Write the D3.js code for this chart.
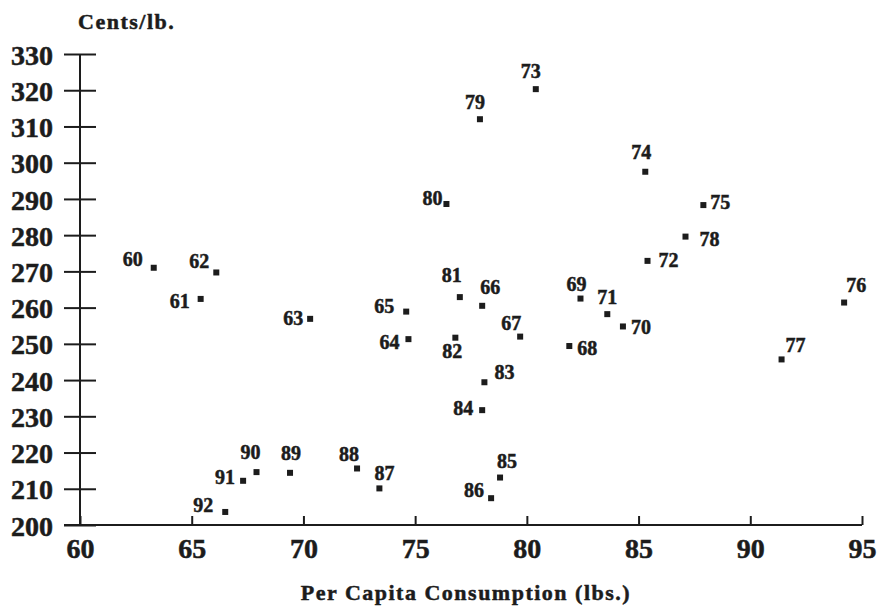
<!DOCTYPE html>
<html>
<head>
<meta charset="utf-8">
<script src="https://cdn.jsdelivr.net/npm/d3@7"></script>
<style>
  html, body { margin: 0; padding: 0; background: #fff; }
  svg { display: block; }
  text { font-family: "Liberation Serif", "Times New Roman", serif; font-weight: bold; fill: #1c1c1c; stroke: #1c1c1c; stroke-width: 0.5px; }
</style>
</head>
<body>
<svg id="chart" width="878" height="607"></svg>
<script>
// ---- data ----
const years = ["60","61","62","63","64","65","66","67","68","69","70","71","72","73","74","75","76","77","78","79","80","81","82","83","84","85","86","87","88","89","90","91","92"];
const consumption = [63.3,65.4,66.1,70.3,74.7,74.6,78.0,79.7,81.9,82.4,84.3,83.6,85.4,80.4,85.3,87.9,94.2,91.4,87.1,77.9,76.4,77.0,76.8,78.1,78.0,78.8,78.4,73.4,72.4,69.4,67.9,67.3,66.5];
const price = [271.0,262.4,269.7,256.9,251.3,258.9,260.5,252.0,249.4,262.5,254.8,258.2,272.9,320.3,297.5,288.3,261.4,245.7,279.6,312.0,288.6,262.9,251.7,239.4,231.7,213.1,207.4,210.1,215.6,214.4,214.6,212.2,203.6];
const xTicks = [60,65,70,75,80,85,90,95];
const yTicks = [200,210,220,230,240,250,260,270,280,290,300,310,320,330];
const yAxisTitle = "Cents/lb.";
const xAxisTitle = "Per Capita Consumption (lbs.)";

// ---- label placement (layout only): [dx, dy] from point to label start/baseline ----
const labelOffset = {
  "60":[-31,-2],"61":[-31,9],"62":[-27,-4],"63":[-27,6],"64":[-29,10],"65":[-32,1],
  "66":[-2,-12],"67":[-19,-7],"68":[8,9],"69":[-14,-8],"70":[8,8],"71":[-10,-10],
  "72":[11,6],"73":[-15,-11],"74":[-14,-13],"75":[7,4],"76":[2,-11],"77":[4,-7],
  "78":[14,9],"79":[-15,-10],"80":[-24,1],"81":[-18,-15],"82":[-13,20],"83":[10,-3],
  "84":[-29,5],"85":[-3,-10],"86":[-27,-1],"87":[-5,-8],"88":[-18,-7],"89":[-9,-13],
  "90":[-16,-13],"91":[-28,3],"92":[-32,0]
};

const ink = "#1c1c1c";
const svg = d3.select("#chart");
const x = d3.scaleLinear().domain([60, 95]).range([80, 862]);
const y = d3.scaleLinear().domain([200, 330]).range([525, 54]);

// Y axis
const gy = svg.append("g").attr("transform", `translate(${x(60)},0)`)
  .call(d3.axisLeft(y).tickValues(yTicks).tickSize(16).tickPadding(11).tickSizeOuter(0));
gy.select(".domain").remove();
gy.selectAll(".tick line").attr("x1", -16).attr("x2", 16).attr("stroke", ink).attr("stroke-width", 2);
gy.selectAll(".tick text").attr("font-size", 28).attr("fill", ink).attr("dy", "0.36em");
svg.append("line").attr("x1", x(60)).attr("x2", x(60)).attr("y1", y(330)).attr("y2", y(200))
  .attr("stroke", ink).attr("stroke-width", 2);

// X axis
const gx = svg.append("g").attr("transform", `translate(0,${y(200)})`)
  .call(d3.axisBottom(x).tickValues(xTicks).tickSize(-9).tickPadding(13).tickSizeOuter(0));
gx.select(".domain").remove();
gx.selectAll(".tick line").attr("stroke", ink).attr("stroke-width", 2);
gx.selectAll(".tick text").attr("font-size", 28).attr("fill", ink);
svg.append("line").attr("x1", x(60) - 16).attr("x2", x(95)).attr("y1", y(200)).attr("y2", y(200))
  .attr("stroke", ink).attr("stroke-width", 2);

// titles
svg.append("text").attr("x", 78).attr("y", 29).attr("font-size", 22)
  .attr("letter-spacing", "1.5px").text(yAxisTitle);
svg.append("text").attr("x", 466).attr("y", 600).attr("text-anchor", "middle")
  .attr("font-size", 22).attr("letter-spacing", "1.5px").text(xAxisTitle);

// points
const pts = years.map((yr, i) => ({ yr, cx: consumption[i], p: price[i] }));
const s = 6;
svg.append("g").selectAll("rect").data(pts).join("rect")
  .attr("x", d => x(d.cx) - s / 2).attr("y", d => y(d.p) - s / 2)
  .attr("width", s).attr("height", s).attr("fill", ink);

svg.append("g").selectAll("text").data(pts).join("text")
  .attr("x", d => x(d.cx) + labelOffset[d.yr][0])
  .attr("y", d => y(d.p) + labelOffset[d.yr][1])
  .attr("font-size", 20)
  .text(d => d.yr);
</script>
</body>
</html>
